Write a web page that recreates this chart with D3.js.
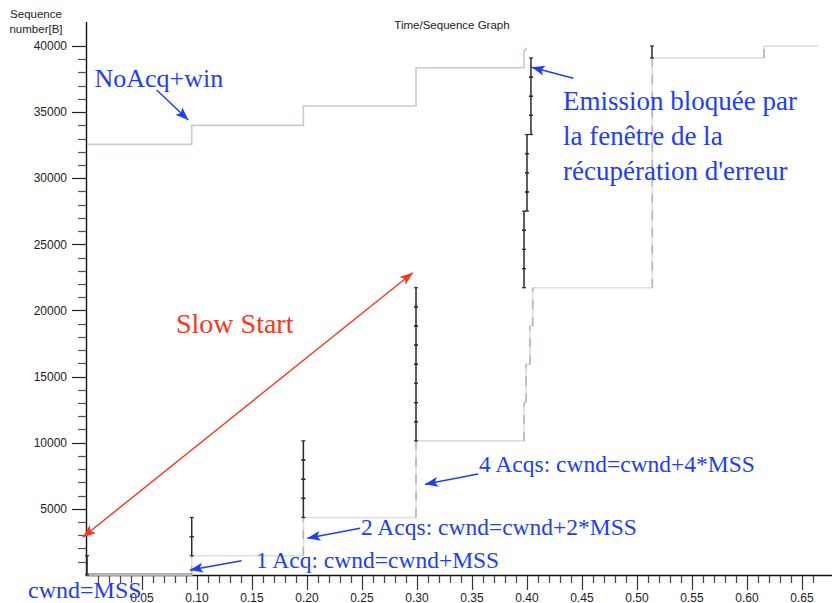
<!DOCTYPE html>
<html>
<head>
<meta charset="utf-8">
<script src="https://cdn.jsdelivr.net/npm/d3@7"></script>
<style>
  html, body { margin: 0; padding: 0; background: #fff; }
  svg { display: block; }
</style>
</head>
<body>
<svg id="chart" width="832" height="603"></svg>
<script>
// ---------------- DATA ----------------
const chartTitle = "Time/Sequence Graph";
const yLabelLines = ["Sequence", "number[B]"];

// x ticks (seconds) and y ticks (bytes)
const xMajorTicks = [0.05, 0.10, 0.15, 0.20, 0.25, 0.30, 0.35, 0.40, 0.45, 0.50, 0.55, 0.60, 0.65];
const xTickLabels = ["0.05", "0.10", "0.15", "0.20", "0.25", "0.30", "0.35", "0.40", "0.45", "0.50", "0.55", "0.60", "0.65"];
const yMajorTicks = [5000, 10000, 15000, 20000, 25000, 30000, 35000, 40000];
const yTickLabels = ["5000", "10000", "15000", "20000", "25000", "30000", "35000", "40000"];

// ACK line (step after)
const ackTimes  = [0, 0.0952, 0.1967, 0.2991, 0.3973, 0.3991, 0.4027, 0.4052, 0.5139, 0.6155, 0.6645];
const ackValues = [0, 1448, 4344, 10136, 13032, 15928, 18824, 21720, 39096, 40000, 40000];

// Window line (ack + advertised window, step after)
const winTimes  = [0, 0.0952, 0.1967, 0.2991, 0.3973, 0.3991, 0.3995];
const winValues = [32560, 34000, 35460, 38360, 39700, 39830, 39830];

// Bursts of data segments: time, first byte, last byte, number of segments
const burstTimes  = [0.0000, 0.0952, 0.1967, 0.2991, 0.3973, 0.4000, 0.4036, 0.5136];
const burstStart  = [0, 1448, 4344, 10136, 21720, 27512, 33304, 39096];
const burstEnd    = [1448, 4344, 10136, 21720, 27512, 33304, 39096, 40000];
const burstCounts = [1, 2, 4, 8, 4, 4, 4, 1];

// Annotations (in data coordinates: seconds, bytes)
const noteTexts  = ["NoAcq+win", "Slow Start", "1 Acq: cwnd=cwnd+MSS", "2 Acqs: cwnd=cwnd+2*MSS", "4 Acqs: cwnd=cwnd+4*MSS", "cwnd=MSS"];
const noteT      = [0.0068, 0.0809, 0.1536, 0.2491, 0.3564, -0.0536];
const noteV      = [36890, 18295, 522, 3018, 7782, -1747];
const noteColor  = ["blue", "red", "blue", "blue", "blue", "blue"];
const noteSize   = [26, 28, 23.5, 23.5, 23.5, 24];

const emissionLines = ["Emission bloquée par", "la fenêtre de la", "récupération d'erreur"];
const emissionT = 0.4327, emissionV = 35155;

// arrows: tail (t,v) -> tip (t,v); doubleHead for the Slow Start arrow
const arrowTailT = [0.0634, 0.4421, 0.2961, 0.1406, 0.2482, 0.3555];
const arrowTailV = [36672, 37558, 22855, 1074, 3524, 7631];
const arrowTipT  = [0.0921, 0.4043, -0.0039, 0.0936, 0.2003, 0.3073];
const arrowTipV  = [34403, 38390, 2844, 371, 2768, 6852];
const arrowColor = ["blue", "blue", "red", "blue", "blue", "blue"];
const arrowDouble = [false, false, true, false, false, false];

// ---------------- DRAWING ----------------
const COLORS = { blue: "#1c3cff", red: "#ff3318" };
const svg = d3.select("#chart");

const x = d3.scaleLinear().domain([0, 0.65]).range([87, 802]);
const y = d3.scaleLinear().domain([0, 40000]).range([574.9, 46]);

// Title and y label
svg.append("text").attr("x", 452).attr("y", 29).attr("text-anchor", "middle")
  .attr("font-family", "Liberation Sans, Arial, sans-serif").attr("font-size", 11.5)
  .attr("fill", "#222").text(chartTitle);
yLabelLines.forEach((s, i) => {
  svg.append("text").attr("x", 36).attr("y", 18 + i * 15).attr("text-anchor", "middle")
    .attr("font-family", "Liberation Sans, Arial, sans-serif").attr("font-size", 11.5)
    .attr("fill", "#222").text(s);
});

// Axes
const axisG = svg.append("g");
axisG.append("line").attr("x1", 86.5).attr("x2", 86.5).attr("y1", 22).attr("y2", 575.5)
  .attr("stroke", "#111").attr("stroke-width", 1.4);
axisG.append("line").attr("x1", 86).attr("x2", 832).attr("y1", 575.5).attr("y2", 575.5)
  .attr("stroke", "#111").attr("stroke-width", 1.4);

// y ticks: minor every 1000
const yMinor = d3.range(1000, 40001, 1000);
axisG.selectAll(".ymin").data(yMinor).enter().append("line")
  .attr("x1", d => (d % 5000 === 0) ? 72 : 78).attr("x2", 86)
  .attr("y1", d => Math.round(y(d)) + 0.5).attr("y2", d => Math.round(y(d)) + 0.5)
  .attr("stroke", d => (d % 5000 === 0) ? "#222" : "#555").attr("stroke-width", 1.2);
axisG.selectAll(".ylab").data(yMajorTicks).enter().append("text")
  .attr("x", 67).attr("y", d => y(d) + 4.2).attr("text-anchor", "end")
  .attr("font-family", "Liberation Sans, Arial, sans-serif").attr("font-size", 12)
  .attr("fill", "#222").text((d, i) => yTickLabels[i]);

// x ticks: minor every 0.01
const xMinor = d3.range(1, 67).map(i => i / 100);
axisG.selectAll(".xmin").data(xMinor).enter().append("line")
  .attr("x1", d => Math.round(x(d)) + 0.5).attr("x2", d => Math.round(x(d)) + 0.5)
  .attr("y1", 576).attr("y2", d => (Math.round(d * 100) % 5 === 0) ? 590 : 583)
  .attr("stroke", d => (Math.round(d * 100) % 5 === 0) ? "#333" : "#444").attr("stroke-width", 1.2);
axisG.selectAll(".xlab").data(xMajorTicks).enter().append("text")
  .attr("x", d => x(d)).attr("y", 601.5).attr("text-anchor", "middle")
  .attr("font-family", "Liberation Sans, Arial, sans-serif").attr("font-size", 12)
  .attr("fill", "#222").text((d, i) => xTickLabels[i]);

// Window line
const winData = winTimes.map((t, i) => [t, winValues[i]]);
const stepLine = d3.line().x(d => x(d[0])).y(d => y(d[1])).curve(d3.curveStepAfter);
svg.append("path").attr("d", stepLine(winData)).attr("fill", "none")
  .attr("stroke", "#c6ccd6").attr("stroke-width", 1.6);

// ACK line
const ackData = ackTimes.map((t, i) => [t, ackValues[i]]);
svg.append("path").attr("d", stepLine(ackData)).attr("fill", "none")
  .attr("stroke", "#dedede").attr("stroke-width", 1.6);
// dashed overlay on the ack line's vertical rises
const rises = ackData.slice(1).map((d, i) => [d[0], ackData[i][1], d[1]]).filter(r => r[2] > r[1]);
svg.selectAll(".rise").data(rises).enter().append("line")
  .attr("x1", d => x(d[0])).attr("x2", d => x(d[0]))
  .attr("y1", d => y(d[1])).attr("y2", d => y(d[2]))
  .attr("stroke", "#aeb8c8").attr("stroke-width", 1.6)
  .attr("stroke-dasharray", "9,8");
// ack line at start (level 0) drawn slate as in original
svg.append("line").attr("x1", x(ackTimes[0])).attr("x2", x(ackTimes[1]))
  .attr("y1", y(ackValues[0]) - 1).attr("y2", y(ackValues[0]) - 1)
  .attr("stroke", "#8793a8").attr("stroke-width", 1.2);

// Segments
const segs = [];
burstTimes.forEach((t, i) => {
  const n = burstCounts[i];
  const step = (burstEnd[i] - burstStart[i]) / n;
  for (let k = 0; k < n; k++) segs.push([t, burstStart[i] + k * step, burstStart[i] + (k + 1) * step]);
});
const segG = svg.append("g");
segG.selectAll(".seg").data(segs).enter().append("line")
  .attr("x1", d => x(d[0])).attr("x2", d => x(d[0]))
  .attr("y1", d => y(d[1])).attr("y2", d => y(d[2]))
  .attr("stroke", "#2a2a2a").attr("stroke-width", 1.5);
const segEnds = [];
segs.forEach(s => { segEnds.push([s[0], s[1]]); segEnds.push([s[0], s[2]]); });
segG.selectAll(".tick").data(segEnds).enter().append("line")
  .attr("x1", d => x(d[0]) - 2).attr("x2", d => x(d[0]) + 2)
  .attr("y1", d => y(d[1])).attr("y2", d => y(d[1]))
  .attr("stroke", "#2a2a2a").attr("stroke-width", 1.2);

// Annotations
const annG = svg.append("g");
noteTexts.forEach((s, i) => {
  annG.append("text").attr("x", x(noteT[i])).attr("y", y(noteV[i]))
    .attr("font-family", "Liberation Serif, Times New Roman, serif")
    .attr("font-size", noteSize[i]).attr("fill", COLORS[noteColor[i]]).text(s);
});
emissionLines.forEach((s, i) => {
  annG.append("text").attr("x", x(emissionT)).attr("y", y(emissionV) + i * 35)
    .attr("font-family", "Liberation Serif, Times New Roman, serif")
    .attr("font-size", 27).attr("fill", COLORS.blue).text(s);
});

function head(px, py, qx, qy, color) {
  // arrowhead at (qx,qy), pointing from (px,py)
  const dx = qx - px, dy = qy - py, L = Math.hypot(dx, dy);
  const ux = dx / L, uy = dy / L, len = 13, hw = 5;
  const bx = qx - ux * len, by = qy - uy * len;
  const p = [[qx, qy], [bx - uy * hw, by + ux * hw], [bx + ux * 3 , by + uy * 3], [bx + uy * hw, by - ux * hw]];
  annG.append("path").attr("d", "M" + p.map(a => a.join(",")).join("L") + "Z").attr("fill", color);
}
arrowTailT.forEach((t, i) => {
  const c = COLORS[arrowColor[i]];
  const x1 = x(t), y1 = y(arrowTailV[i]), x2 = x(arrowTipT[i]), y2 = y(arrowTipV[i]);
  annG.append("line").attr("x1", x1).attr("y1", y1).attr("x2", x2).attr("y2", y2)
    .attr("stroke", c).attr("stroke-width", 1.4);
  head(x1, y1, x2, y2, c);
  if (arrowDouble[i]) head(x2, y2, x1, y1, c);
});
</script>
</body>
</html>
